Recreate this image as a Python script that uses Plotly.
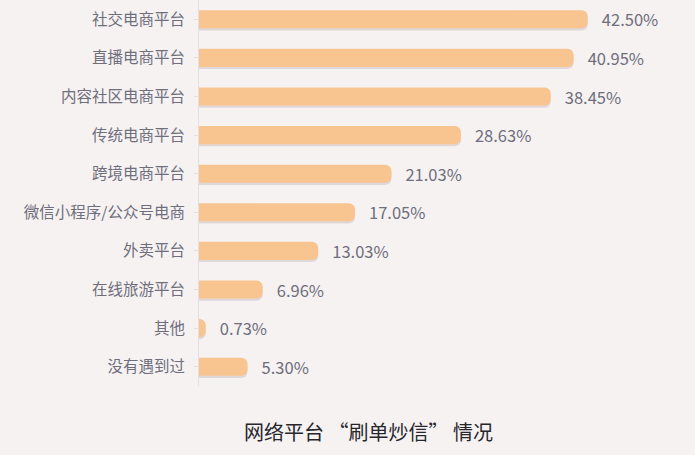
import plotly.graph_objects as go

categories = ["社交电商平台", "直播电商平台", "内容社区电商平台", "传统电商平台", "跨境电商平台",
              "微信小程序/公众号电商", "外卖平台", "在线旅游平台", "其他", "没有遇到过"]
values = [42.50, 40.95, 38.45, 28.63, 21.03, 17.05, 13.03, 6.96, 0.73, 5.30]
title_text = "网络平台 “刷单炒信” 情况"

FONT = "Noto Sans CJK SC"
BG = "#f6f2f2"

fig = go.Figure()
# soft shadow below each bar
fig.add_trace(go.Bar(
    y=categories, x=values, orientation="h",
    marker=dict(color="rgba(140,110,120,0.20)", cornerradius=6, line=dict(width=0)),
    width=0.47, offset=-0.29,
    hoverinfo="skip", showlegend=False,
))
fig.add_trace(go.Bar(
    y=categories, x=values, orientation="h",
    marker=dict(color="#f8c591", cornerradius=6, line=dict(width=0)),
    width=0.47, offset=-0.235,
    texttemplate="   %{x:.2f}%", textposition="outside", cliponaxis=False,
    constraintext="none",
    textfont=dict(family=FONT, size=16.5, color="#6e6e7c"),
    showlegend=False,
))

fig.update_layout(
    width=695, height=455,
    margin=dict(l=199, r=35, t=0, b=69),
    paper_bgcolor=BG, plot_bgcolor=BG,
    barmode="overlay",
    font=dict(family=FONT, size=15, color="#6e6e7c"),
    xaxis=dict(range=[0, 50.4], visible=False, fixedrange=True),
    yaxis=dict(
        categoryorder="array", categoryarray=categories[::-1],
        showline=True, linecolor="#e4e0e2", linewidth=1,
        ticks="outside", ticklen=4, tickcolor="#e4e0e2",
        showgrid=False, ticklabelstandoff=6,
        tickfont=dict(family=FONT, size=15.5, color="#6e6e7c"),
    ),
    annotations=[dict(
        text=title_text, xref="paper", yref="paper",
        x=(368 - 199) / 461, y=-(431 - 386) / 386, xanchor="center", yanchor="middle",
        showarrow=False, font=dict(family=FONT, size=20, color="#26262c"),
    )],
)

fig.write_html("out.html")
